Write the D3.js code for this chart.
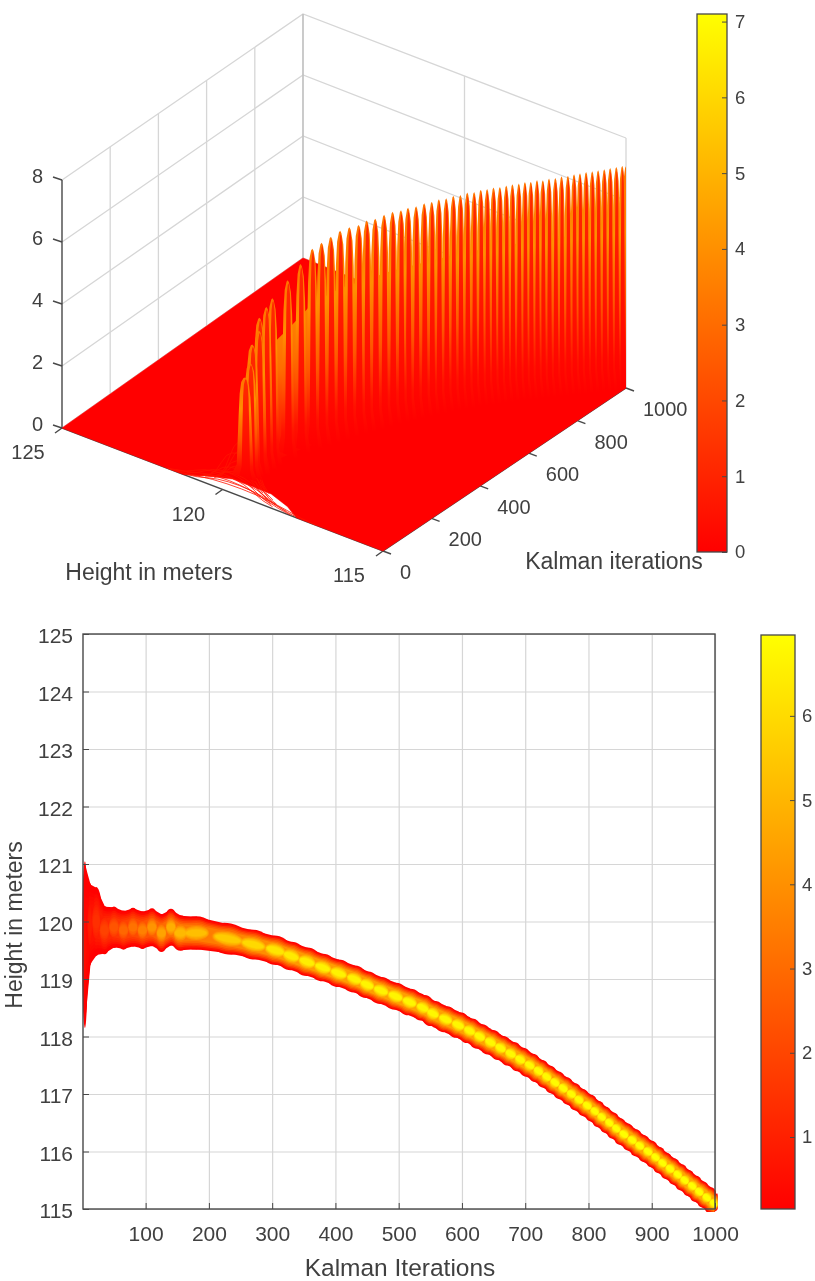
<!DOCTYPE html>
<html><head><meta charset="utf-8">
<script src="https://cdnjs.cloudflare.com/ajax/libs/d3/7.8.5/d3.min.js"></script>
<style>html,body{margin:0;padding:0;background:#fff}svg{display:block;filter:blur(.45px)}
text{font-family:"Liberation Sans",Arial,sans-serif;fill:#404040}</style></head><body>
<script>
// ---- data ----
const spikeIter=[4,12,22,35,50,65,80,95,110,125,140,155,180,230,270,305,330,355,380,405,430,450,472,495,517,538,554,574,594,612,628,645,661,677,692,707,721,734,747,760,773,785,798,810,821,833,844,856,869,881,894,906,917,929,941,952,964,975,987,998,1000];
const spikeHeight=[119.6,119.95,120,119.85,119.9,119.85,119.9,119.85,119.9,119.8,119.9,119.8,119.8,119.7,119.6,119.5,119.4,119.3,119.2,119.1,119,118.9,118.8,118.7,118.6,118.5,118.4,118.3,118.2,118.1,118,117.9,117.8,117.7,117.6,117.5,117.4,117.3,117.2,117.1,117,116.9,116.8,116.7,116.6,116.5,116.4,116.3,116.2,116.1,116,115.9,115.8,115.7,115.6,115.5,115.4,115.3,115.2,115.1,115];
const spikePeak=[0.5,0.9,1.4,1.9,2.4,2.9,3.2,3.6,4.1,4.5,4.8,5.1,5.25,5.6,5.95,6.3,6.4,6.5,6.6,6.62,6.6,6.68,6.66,6.7,6.72,6.7,6.74,6.72,6.75,6.74,6.78,6.76,6.8,6.78,6.82,6.8,6.84,6.83,6.85,6.84,6.86,6.88,6.87,6.9,6.89,6.92,6.9,6.93,6.92,6.95,6.94,6.97,6.98,7,7,7.02,7.03,7.05,7.06,7.08,7.1];
const spikeCross=[1.5,0.95,0.72,0.55,0.46,0.42,0.4,0.38,0.37,0.36,0.35,0.33,0.32,0.32,0.32,0.32,0.32,0.32,0.32,0.31,0.31,0.3,0.3,0.29,0.29,0.28,0.28,0.27,0.27,0.26,0.26,0.25,0.25,0.25,0.25,0.24,0.24,0.24,0.24,0.24,0.23,0.23,0.23,0.23,0.23,0.23,0.23,0.23,0.23,0.23,0.23,0.23,0.23,0.23,0.23,0.23,0.23,0.23,0.23,0.23,0.23];
const bandHalf=[1.45,0.72,0.6,0.42,0.36,0.34,0.34,0.33,0.33,0.33,0.32,0.31,0.29,0.26,0.25,0.25,0.25,0.25,0.24,0.24,0.24,0.24,0.24,0.24,0.24,0.24,0.24,0.24,0.24,0.24,0.24,0.24,0.24,0.24,0.24,0.24,0.24,0.24,0.24,0.24,0.24,0.24,0.24,0.24,0.24,0.24,0.24,0.24,0.24,0.24,0.24,0.24,0.24,0.24,0.24,0.24,0.24,0.24,0.24,0.24,0.24];
const crossShare=[-1,-0.65,-0.5,-0.42,-0.3,-0.12,0,0.12,0.3,0.42,0.5,0.65,1];
const crossLift=[0,0.1,0.6,0.82,0.94,0.99,1,0.99,0.94,0.82,0.6,0.1,0];
const fanShare=[-1,-0.8,-0.6,-0.4,-0.2,0,0.2,0.4,0.6,0.8,1];
const fanLift=[0.01,0.18,0.5,0.8,0.95,1,0.95,0.8,0.5,0.18,0.01];
const levelShare=[0.03,0.12,0.28,0.42,0.54,0.66,0.78,0.88,0.95,1];
const levelReach=[1,0.9,0.8,0.7,0.6,0.5,0.42,0.34,0.26,0.2];
const fanIter=[0,2,4,7,10,14,18,23,28,34,40,46,52,58];
const fanCentre=[119.4,119.8,119.5,120,119.6,119.9,119.7,119.6,119.8,119.6,119.7,119.9,119.7,119.8];
const fanReach=[2.3,1.9,1.7,1.5,1.5,1.3,1.2,1.1,1,0.9,0.8,0.8,0.75,0.7];
const fanPeak=[0.25,0.35,0.3,0.45,0.4,0.5,0.5,0.55,0.6,0.7,0.8,0.95,1.1,1.3];
const floorIter=[0,0,30,55,55,30,0,0,1000,1000];
const floorHeight=[125,121.2,120.7,120.1,118.9,118.2,117.7,115,115,125];
const flankOffset=[0,0.3,0.6,0.85,1], flankValue=[3.2,4,2.4,0.5,0];
const coreOffset=[0,0.5,1], coreValue=[1.2,0.6,0];
const wallOffset=[0,0.3,0.6,1], wallValue=[3.6,3,1.5,0];
const iterTicks3d=[0,200,400,600,800,1000];
const heightTicks3d=[125,120,115];
const zTicks3d=[0,2,4,6,8];
const barTicksTop=[0,1,2,3,4,5,6,7];
const barTicksBottom=[1,2,3,4,5,6];
const iterTicks2d=[100,200,300,400,500,600,700,800,900,1000];
const heightTicks2d=[115,116,117,118,119,120,121,122,123,124,125];
const topBarDomain=[0,7.1];
const bottomBarDomain=[0.145,6.96];

// ---- layout ----
const svg=d3.select("body").append("svg").attr("width",815).attr("height",1281);
const defs=svg.append("defs");
const INK="#484848",GRID="#d6d6d6";
const uScale=d3.scaleLinear([0,1000],[0,1]);
const vScale=d3.scaleLinear([125,115],[0,1]);
const corner={a:[62,428,31],b:[303,258,30.5],c:[383,551,31.5],d:[626,388,31.25]};
function project(iter,height,z){
  const u=uScale(iter),v=vScale(height);
  const mix=k=>(1-u)*(1-v)*corner.a[k]+u*(1-v)*corner.b[k]+(1-u)*v*corner.c[k]+u*v*corner.d[k];
  return [mix(0),mix(1)-z*mix(2)];
}
const autumnTop=d3.scaleLinear(topBarDomain,["#ff0000","#ffff00"]).clamp(true);
const autumnBottom=d3.scaleLinear(bottomBarDomain,["#ff0000","#ffff00"]).clamp(true);
const line3=d3.line();
const closed=d3.line().curve(d3.curveLinearClosed);
function verticalGradient(id,offsets,values){
  const g=defs.append("linearGradient").attr("id",id).attr("x1",0).attr("y1",0).attr("x2",0).attr("y2",1);
  offsets.forEach((o,k)=>g.append("stop").attr("offset",o).attr("stop-color",autumnTop(values[k])));
}
verticalGradient("flank",flankOffset,flankValue);
verticalGradient("core",coreOffset,coreValue);
verticalGradient("wall",wallOffset,wallValue);
const upper=svg.append("g");

// back walls
const walls=upper.append("g").attr("fill","none").attr("stroke",GRID).attr("stroke-width",1.3);
zTicks3d.forEach(z=>walls.append("path").attr("d",line3([project(0,125,z),project(1000,125,z),project(1000,115,z)])));
iterTicks3d.slice(1).forEach(i=>walls.append("path").attr("d",line3([project(i,125,0),project(i,125,8)])));
[120,115].forEach(h=>walls.append("path").attr("d",line3([project(1000,h,0),project(1000,h,8)])));
walls.append("path").attr("d",line3([project(1000,125,0),project(1000,125,8)])).attr("stroke","#bdbdbd");

// axes under the surface
const ax=upper.append("g").attr("fill","none").attr("stroke",INK).attr("stroke-width",1.4);
ax.append("path").attr("d",line3([project(0,125,8),project(0,125,0),project(0,115,0),project(1000,115,0)]));
zTicks3d.forEach(z=>{const p=project(0,125,z);ax.append("path").attr("d",line3([p,[p[0]-9,p[1]-3]]));
  upper.append("text").attr("x",37.5).attr("y",p[1]-4).attr("text-anchor","middle").attr("dominant-baseline","central").attr("font-size",20).text(z);});
heightTicks3d.forEach(h=>{const p=project(0,h,0);ax.append("path").attr("d",line3([p,[p[0]-7,p[1]+5]]));
  upper.append("text").attr("x",p[0]-34).attr("y",p[1]+24).attr("text-anchor","middle").attr("dominant-baseline","central").attr("font-size",20).text(h);});
iterTicks3d.forEach(i=>{const p=project(i,115,0);ax.append("path").attr("d",line3([p,[p[0]+8,p[1]+3]]));
  upper.append("text").attr("x",p[0]+17).attr("y",p[1]+21).attr("dominant-baseline","central").attr("font-size",20).text(i);});
upper.append("text").attr("x",149).attr("y",572).attr("text-anchor","middle").attr("dominant-baseline","central").attr("font-size",23).text("Height in meters");
upper.append("text").attr("x",614).attr("y",561).attr("text-anchor","middle").attr("dominant-baseline","central").attr("font-size",23).text("Kalman iterations");

// surface: floor, fan, ridge
upper.append("path").attr("fill","#ff0000").attr("stroke","#ff0000").attr("stroke-width",0.5)
  .attr("d",closed(floorIter.map((v,k)=>project(v,floorHeight[k],0))));
const surf=upper.append("g").attr("fill","none").attr("stroke-width",0.8).attr("stroke-linecap","round");
fanIter.forEach((iter,n)=>{
  surf.append("path").attr("stroke","#ff1400")
    .attr("d",line3(fanShare.map((c,k)=>project(iter,Math.max(115,fanCentre[n]+c*fanReach[n]),fanPeak[n]*fanLift[k]))));
});
const firstSolid=6, firstWall=9;
// back fill between neighbouring spikes, seen through the comb
d3.range(spikeIter.length-2,firstWall-1,-1).forEach(n=>{
  const a=[spikeIter[n],spikeHeight[n],spikePeak[n]*0.72],b=[spikeIter[n+1],spikeHeight[n+1],spikePeak[n+1]*0.72];
  surf.append("path").attr("fill","url(#wall)").attr("stroke","none")
    .attr("d",closed([project(...a),project(...b),project(b[0],b[1],0),project(a[0],a[1],0)]));
});
// the spikes, far to near
d3.range(spikeIter.length-1,firstSolid-1,-1).forEach(n=>{
  const h=spikeHeight[n],iter=spikeIter[n],last=n===spikeIter.length-1;
  const shape=(widthShare,shift,top)=>{
    const pts=crossShare.map((c,k)=>({h:h+(c*widthShare+shift)*spikeCross[n],z:spikePeak[n]*top*crossLift[k]})).filter(p=>p.h>=115);
    return closed(pts.map(p=>project(iter,p.h,p.z)).concat([project(iter,pts[pts.length-1].h,0),project(iter,pts[0].h,0)]));
  };
  surf.append("path").attr("fill","url(#flank)").attr("stroke","none").attr("d",shape(1,0,1));
  if(!last) surf.append("path").attr("fill","url(#core)").attr("stroke","none").attr("d",shape(0.5,-0.06,0.985));
});

// colour bars
function colourBar(id,x,w,y0,y1,domain,ticks,labelX){
  const g=svg.append("g");
  const grad=defs.append("linearGradient").attr("id",id).attr("x1",0).attr("y1",1).attr("x2",0).attr("y2",0);
  grad.append("stop").attr("offset",0).attr("stop-color","#ff0000");
  grad.append("stop").attr("offset",1).attr("stop-color","#ffff00");
  g.append("rect").attr("x",x).attr("y",y0).attr("width",w).attr("height",y1-y0).attr("fill",`url(#${id})`).attr("stroke",INK).attr("stroke-width",1.3);
  const s=d3.scaleLinear(domain,[y1,y0]);
  const a=g.append("g").attr("transform",`translate(${x+w},0)`).call(d3.axisRight(s).tickValues(ticks).tickSize(-5).tickPadding(0).tickFormat(d3.format("d")));
  a.select(".domain").remove();
  a.selectAll("line").attr("stroke",INK);
  a.selectAll("text").attr("x",labelX-x-w).attr("font-size",18.5).style("font-family",'"Liberation Sans"').attr("fill",INK);
}
colourBar("cbTop",697,30,14,552,topBarDomain,barTicksTop,735);
colourBar("cbBot",761,34,635,1209,bottomBarDomain,barTicksBottom,802);

// lower plot
const x2=d3.scaleLinear([1,1000],[83,715]);
const y2=d3.scaleLinear([115,125],[1209,634]);
const low=svg.append("g");
const styleGrid=g=>{g.select(".domain").remove();g.selectAll("line").attr("stroke",GRID).attr("stroke-width",1.2);};
low.append("g").attr("transform","translate(0,1209)").call(d3.axisBottom(x2).tickValues(iterTicks2d).tickSize(-575).tickFormat("")).call(styleGrid);
low.append("g").attr("transform","translate(83,0)").call(d3.axisLeft(y2).tickValues(heightTicks2d).tickSize(-632).tickFormat("")).call(styleGrid);
defs.append("clipPath").attr("id","plot2").append("rect").attr("x",82.5).attr("y",634).attr("width",635).attr("height",578);
const beads=low.append("g").attr("clip-path","url(#plot2)");
const thick=n=>Math.abs(y2(spikeHeight[n]+bandHalf[n])-y2(spikeHeight[n]));
const lastBead=spikeIter.length-1;
levelShare.forEach((share,l)=>{
  const reach=levelReach[l];
  if(l<6) spikeIter.slice(0,lastBead-1).forEach((iter,n)=>{
    const pa=[x2(iter),y2(spikeHeight[n]),thick(n)*reach*0.97],pb=[x2(spikeIter[n+1]),y2(spikeHeight[n+1]),thick(n+1)*reach*0.97];
    beads.append("path").attr("fill",autumnBottom(spikePeak[n]*share))
      .attr("d",closed([[pa[0],pa[1]-pa[2]],[pb[0]+0.5,pb[1]-pb[2]],[pb[0]+0.5,pb[1]+pb[2]],[pa[0],pa[1]+pa[2]]]));
  });
  spikeIter.slice(0,lastBead).forEach((iter,n)=>{
    const i0=Math.max(0,n-1),i1=Math.min(lastBead-1,n+1);
    const dx=x2(spikeIter[i1])-x2(spikeIter[i0]),dy=y2(spikeHeight[i1])-y2(spikeHeight[i0]);
    const spacing=Math.hypot(dx,dy)/(n===0?2:i1-i0), angle=Math.atan2(dy,dx);
    const rs=thick(n)*reach*(n>12?Math.cos(angle)*1.06:1), ra=spacing*(0.34+0.46*reach);
    beads.append("ellipse").attr("rx",n<2?ra*0.35:ra).attr("ry",rs)
      .attr("transform",`translate(${x2(iter)},${y2(spikeHeight[n])}) rotate(${n>12?angle*180/Math.PI:0})`)
      .attr("fill",autumnBottom(spikePeak[n]*share));
  });
});
low.append("rect").attr("x",83).attr("y",634).attr("width",632).attr("height",575).attr("fill","none").attr("stroke",INK).attr("stroke-width",1.4);
const xa=low.append("g").attr("transform","translate(0,1209)").call(d3.axisBottom(x2).tickValues(iterTicks2d).tickSize(-6).tickPadding(17).tickFormat(d3.format("d")));
xa.select(".domain").remove();xa.selectAll("line").attr("stroke",INK);
xa.selectAll("text").attr("font-size",21).style("font-family",'"Liberation Sans"').attr("fill",INK);
const ya=low.append("g").attr("transform","translate(83,0)").call(d3.axisLeft(y2).tickValues(heightTicks2d).tickSize(-6).tickPadding(10));
ya.select(".domain").remove();ya.selectAll("line").attr("stroke",INK);
ya.selectAll("text").attr("font-size",21).attr("dy","0.42em").style("font-family",'"Liberation Sans"').attr("fill",INK);
low.append("text").attr("x",400).attr("y",1267).attr("text-anchor","middle").attr("dominant-baseline","central").attr("font-size",24.5).text("Kalman Iterations");
low.append("text").attr("transform","translate(14,925) rotate(-90)").attr("text-anchor","middle").attr("dominant-baseline","central").attr("font-size",23).text("Height in meters");
</script></body></html>
